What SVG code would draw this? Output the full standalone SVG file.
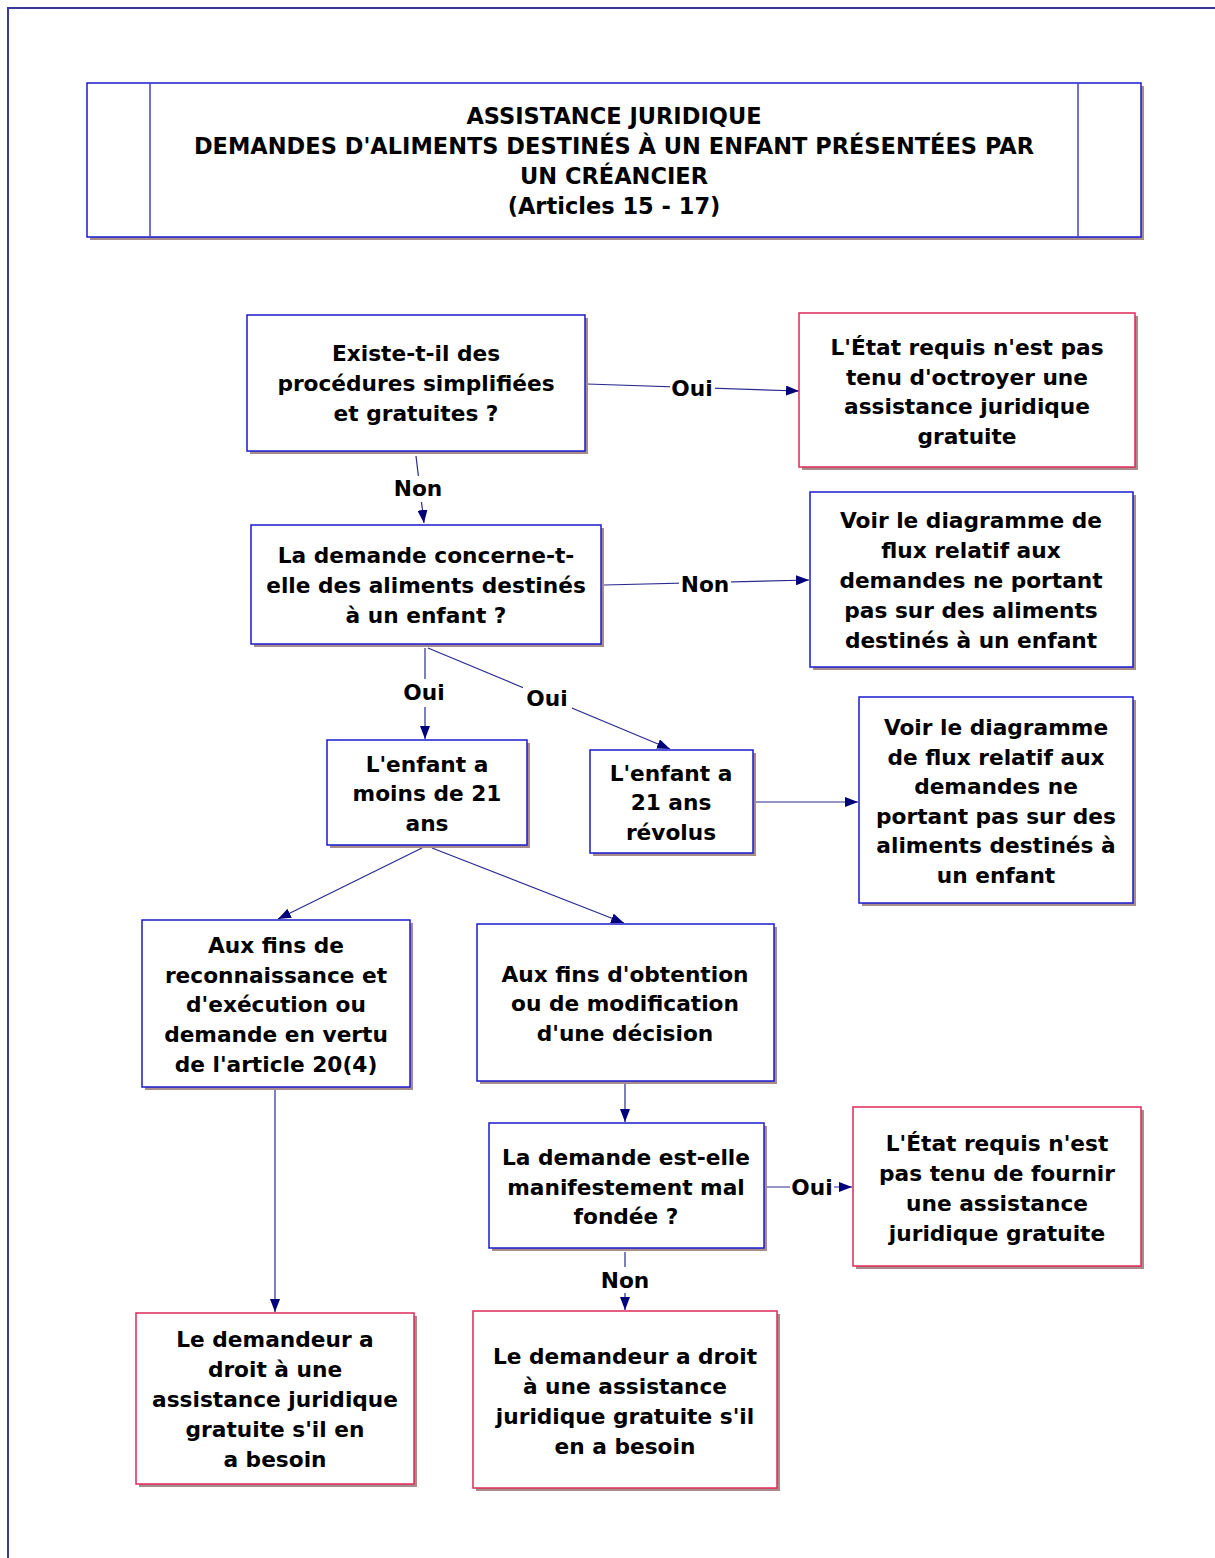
<svg xmlns="http://www.w3.org/2000/svg" width="1215" height="1558" viewBox="0 0 1215 1558">
<defs>
<style>
text{font-family:"DejaVu Sans","Liberation Sans",sans-serif;font-weight:bold;font-size:21.7px;fill:#000;text-anchor:middle}
.tt{font-size:22.5px}
.box{fill:#fff;stroke:#1a1ad0;stroke-width:1.5}
.red{fill:#fff;stroke:#e0285a;stroke-width:1.5}
.sh{fill:#a88c8c}
.ln{stroke:#2a2a90;stroke-width:1.2;fill:none}
.lbg{fill:#fff}
</style>
<marker id="ah" viewBox="0 0 13 10" refX="13" refY="5" markerWidth="13" markerHeight="10" markerUnits="userSpaceOnUse" orient="auto">
<path d="M0,0 L13,5 L0,10 z" fill="#00007a"/>
</marker>
</defs>
<rect width="1215" height="1558" fill="#fff"/>
<path d="M8,1558 V8 H1215" fill="none" stroke="#3a3a9a" stroke-width="2"/>

<g id="title">
<rect class="sh" x="90" y="86" width="1054" height="154"/>
<rect class="box" x="87" y="83" width="1054" height="154"/>
<line x1="150" y1="83" x2="150" y2="237" stroke="#4040d0" stroke-width="1.5"/>
<line x1="1078" y1="83" x2="1078" y2="237" stroke="#4040d0" stroke-width="1.5"/>
<text class="tt" x="614" y="124">ASSISTANCE JURIDIQUE</text>
<text class="tt" x="614" y="154">DEMANDES D'ALIMENTS DESTINÉS À UN ENFANT PRÉSENTÉES PAR</text>
<text class="tt" x="614" y="184">UN CRÉANCIER</text>
<text class="tt" x="614" y="214">(Articles 15 - 17)</text>
</g>

<g id="connectors">
<line class="ln" x1="587" y1="384" x2="799" y2="391" marker-end="url(#ah)"/>
<rect class="lbg" x="670" y="375" width="45" height="26"/>
<text x="692" y="396">Oui</text>

<line class="ln" x1="416" y1="456" x2="424" y2="523" marker-end="url(#ah)"/>
<rect class="lbg" x="393" y="476" width="50" height="26"/>
<text x="418" y="496">Non</text>

<line class="ln" x1="604" y1="585" x2="809" y2="580" marker-end="url(#ah)"/>
<rect class="lbg" x="679" y="571" width="52" height="26"/>
<text x="705" y="592">Non</text>

<line class="ln" x1="425" y1="648" x2="425" y2="739" marker-end="url(#ah)"/>
<rect class="lbg" x="401" y="679" width="47" height="28"/>
<text x="424" y="700">Oui</text>

<line class="ln" x1="428" y1="648" x2="670" y2="749" marker-end="url(#ah)"/>
<rect class="lbg" x="523" y="684" width="49" height="28"/>
<text x="547" y="706">Oui</text>

<line class="ln" x1="756" y1="802" x2="858" y2="802" marker-end="url(#ah)"/>

<line class="ln" x1="422" y1="848" x2="278" y2="919" marker-end="url(#ah)"/>
<line class="ln" x1="432" y1="848" x2="624" y2="923" marker-end="url(#ah)"/>

<line class="ln" x1="275" y1="1090" x2="275" y2="1312" marker-end="url(#ah)"/>

<line class="ln" x1="625" y1="1084" x2="625" y2="1122" marker-end="url(#ah)"/>

<line class="ln" x1="767" y1="1187" x2="852" y2="1187" marker-end="url(#ah)"/>
<rect class="lbg" x="790" y="1174" width="44" height="26"/>
<text x="812" y="1195">Oui</text>

<line class="ln" x1="625" y1="1252" x2="625" y2="1310" marker-end="url(#ah)"/>
<rect class="lbg" x="599" y="1267" width="52" height="26"/>
<text x="625" y="1288">Non</text>
</g>

<g id="n1">
<rect class="sh" x="250" y="318" width="338" height="136"/>
<rect class="box" x="247" y="315" width="338" height="136"/>
<text x="416" y="361">Existe-t-il des</text>
<text x="416" y="391">procédures simplifiées</text>
<text x="416" y="421">et gratuites ?</text>
</g>

<g id="n2">
<rect class="sh" x="802" y="316" width="336" height="154"/>
<rect class="red" x="799" y="313" width="336" height="154"/>
<text x="967" y="355">L'État requis n'est pas</text>
<text x="967" y="385">tenu d'octroyer une</text>
<text x="967" y="414">assistance juridique</text>
<text x="967" y="444">gratuite</text>
</g>

<g id="n3">
<rect class="sh" x="254" y="528" width="350" height="119"/>
<rect class="box" x="251" y="525" width="350" height="119"/>
<text x="426" y="563">La demande concerne-t-</text>
<text x="426" y="593">elle des aliments destinés</text>
<text x="426" y="623">à un enfant ?</text>
</g>

<g id="n4">
<rect class="sh" x="813" y="495" width="323" height="175"/>
<rect class="box" x="810" y="492" width="323" height="175"/>
<text x="971" y="528">Voir le diagramme de</text>
<text x="971" y="558">flux relatif aux</text>
<text x="971" y="588">demandes ne portant</text>
<text x="971" y="618">pas sur des aliments</text>
<text x="971" y="648">destinés à un enfant</text>
</g>

<g id="n5">
<rect class="sh" x="330" y="743" width="200" height="105"/>
<rect class="box" x="327" y="740" width="200" height="105"/>
<text x="427" y="772">L'enfant a</text>
<text x="427" y="801">moins de 21</text>
<text x="427" y="831">ans</text>
</g>

<g id="n6">
<rect class="sh" x="593" y="753" width="163" height="103"/>
<rect class="box" x="590" y="750" width="163" height="103"/>
<text x="671" y="781">L'enfant a</text>
<text x="671" y="810">21 ans</text>
<text x="671" y="840">révolus</text>
</g>

<g id="n7">
<rect class="sh" x="862" y="700" width="274" height="206"/>
<rect class="box" x="859" y="697" width="274" height="206"/>
<text x="996" y="735">Voir le diagramme</text>
<text x="996" y="765">de flux relatif aux</text>
<text x="996" y="794">demandes ne</text>
<text x="996" y="824">portant pas sur des</text>
<text x="996" y="853">aliments destinés à</text>
<text x="996" y="883">un enfant</text>
</g>

<g id="n8">
<rect class="sh" x="145" y="923" width="268" height="167"/>
<rect class="box" x="142" y="920" width="268" height="167"/>
<text x="276" y="953">Aux fins de</text>
<text x="276" y="983">reconnaissance et</text>
<text x="276" y="1012">d'exécution ou</text>
<text x="276" y="1042">demande en vertu</text>
<text x="276" y="1072">de l'article 20(4)</text>
</g>

<g id="n9">
<rect class="sh" x="480" y="927" width="297" height="157"/>
<rect class="box" x="477" y="924" width="297" height="157"/>
<text x="625" y="982">Aux fins d'obtention</text>
<text x="625" y="1011">ou de modification</text>
<text x="625" y="1041">d'une décision</text>
</g>

<g id="n10">
<rect class="sh" x="492" y="1126" width="275" height="125"/>
<rect class="box" x="489" y="1123" width="275" height="125"/>
<text x="626" y="1165">La demande est-elle</text>
<text x="626" y="1195">manifestement mal</text>
<text x="626" y="1224">fondée ?</text>
</g>

<g id="n11">
<rect class="sh" x="856" y="1110" width="288" height="159"/>
<rect class="red" x="853" y="1107" width="288" height="159"/>
<text x="997" y="1151">L'État requis n'est</text>
<text x="997" y="1181">pas tenu de fournir</text>
<text x="997" y="1211">une assistance</text>
<text x="997" y="1241">juridique gratuite</text>
</g>

<g id="n12">
<rect class="sh" x="139" y="1316" width="278" height="171"/>
<rect class="red" x="136" y="1313" width="278" height="171"/>
<text x="275" y="1347">Le demandeur a</text>
<text x="275" y="1377">droit à une</text>
<text x="275" y="1407">assistance juridique</text>
<text x="275" y="1437">gratuite s'il en</text>
<text x="275" y="1467">a besoin</text>
</g>

<g id="n13">
<rect class="sh" x="476" y="1314" width="304" height="177"/>
<rect class="red" x="473" y="1311" width="304" height="177"/>
<text x="625" y="1364">Le demandeur a droit</text>
<text x="625" y="1394">à une assistance</text>
<text x="625" y="1424">juridique gratuite s'il</text>
<text x="625" y="1454">en a besoin</text>
</g>
</svg>
